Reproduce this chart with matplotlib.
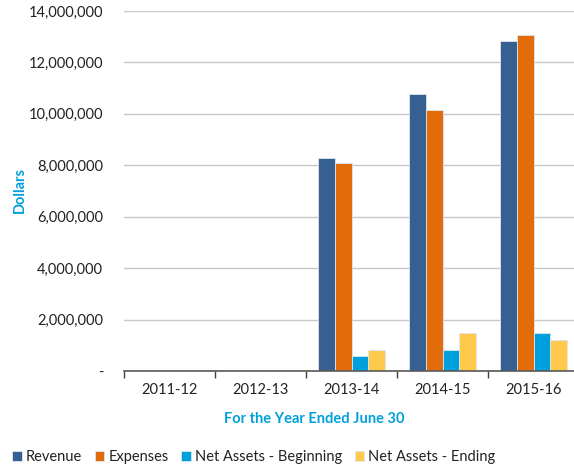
import numpy as np
import matplotlib.pyplot as plt
from matplotlib.ticker import FuncFormatter, FixedLocator

years = ['2011-12', '2012-13', '2013-14', '2014-15', '2015-16']
revenue = [0, 0, 8290000, 10780000, 12830000]
expenses = [0, 0, 8090000, 10140000, 13070000]
na_begin = [0, 0, 600000, 820000, 1470000]
na_end = [0, 0, 820000, 1470000, 1220000]

series = [
    ('Revenue', revenue, '#376092'),
    ('Expenses', expenses, '#E36C0A'),
    ('Net Assets - Beginning', na_begin, '#00A0DC'),
    ('Net Assets - Ending', na_end, '#FFC94C'),
]

plt.rcParams['font.family'] = ['Lato', 'DejaVu Sans']

fig = plt.figure(figsize=(5.74, 4.67), dpi=100)
W, H = 574, 467
# plot area runs a little past the right edge of the figure
ax = fig.add_axes([124 / W, 1 - 371 / H, (579 - 124) / W, (371 - 11) / H])

x = np.arange(len(years))
bw = 0.182
for i, (name, vals, col) in enumerate(series):
    ax.bar(x + (i - 1.5) * bw, vals, bw, color=col, edgecolor='#dce6f0',
           linewidth=0.6, label=name, zorder=3)

ax.set_xlim(-0.5, len(years) - 0.5)
ax.set_ylim(0, 14000000)
ax.set_yticks(np.arange(0, 14000001, 2000000))
ax.yaxis.set_major_formatter(FuncFormatter(lambda v, p: '-' if v == 0 else f'{v:,.0f}'))
ax.grid(axis='y', color='#c8c8c8', linewidth=1, zorder=0)
ax.tick_params(axis='y', length=0, pad=15, labelsize=10.5, labelcolor='#222222')

ax.set_xticks(x)
ax.set_xticklabels(years)
ax.xaxis.set_minor_locator(FixedLocator(np.arange(-0.5, len(years), 1)))
ax.tick_params(axis='x', which='major', length=0, pad=9, labelsize=10.5, labelcolor='#222222')
ax.tick_params(axis='x', which='minor', length=5, width=1, color='#404040')

for s in ['top', 'right', 'left']:
    ax.spines[s].set_visible(False)
ax.spines['bottom'].set_color('#595959')
ax.spines['bottom'].set_linewidth(1.2)
ax.spines['bottom'].set_zorder(4)

fig.text(314 / W, 1 - 419 / H, 'For the Year Ended June 30', ha='center', va='center',
         color='#00A0DC', fontsize=10.5, fontweight='bold')
fig.text(20 / W, 1 - 190 / H, 'Dollars', ha='center', va='center', rotation=90,
         color='#00A0DC', fontsize=10.5, fontweight='bold')

fig.legend(loc='center left', bbox_to_anchor=(-1 / W, 1 - 457 / H), ncol=4, frameon=False,
           fontsize=10.5, handlelength=0.65, handleheight=0.65, handletextpad=0.3,
           columnspacing=0.85, labelcolor='#222222')

fig.savefig('out.png', dpi=100)
